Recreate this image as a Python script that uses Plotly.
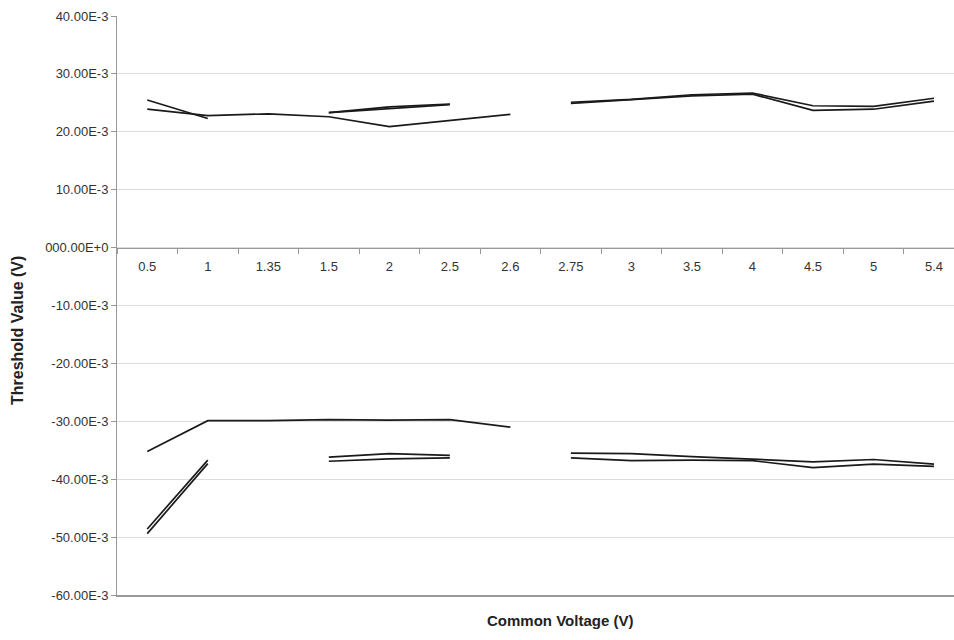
import plotly.graph_objects as go

categories = ["0.5", "1", "1.35", "1.5", "2", "2.5", "2.6", "2.75", "3", "3.5", "4", "4.5", "5", "5.4"]

# values in mV (None = no point)
upper_short = [25.5, 22.3, None, None, None, None, None, None, None, None, None, None, None, None]
upper_long = [23.9, 22.8, 23.1, 22.6, 20.9, 22.0, 23.0, None, None, None, None, None, None, None]
upper_mid_a = [None, None, None, 23.3, 24.3, 24.8, None, None, None, None, None, None, None, None]
upper_mid_b = [None, None, None, 23.3, 24.0, 24.7, None, None, None, None, None, None, None, None]
upper_right_a = [None, None, None, None, None, None, None, 25.1, 25.6, 26.4, 26.7, 24.5, 24.4, 25.8]
upper_right_b = [None, None, None, None, None, None, None, 24.9, 25.5, 26.2, 26.5, 23.7, 23.9, 25.3]

lower_long = [-35.2, -29.9, -29.9, -29.7, -29.8, -29.7, -31.0, None, None, None, None, None, None, None]
lower_short_a = [-48.6, -36.7, None, None, None, None, None, None, None, None, None, None, None, None]
lower_short_b = [-49.4, -37.3, None, None, None, None, None, None, None, None, None, None, None, None]
lower_mid_a = [None, None, None, -36.2, -35.6, -35.9, None, None, None, None, None, None, None, None]
lower_mid_b = [None, None, None, -36.9, -36.5, -36.3, None, None, None, None, None, None, None, None]
lower_right_a = [None, None, None, None, None, None, None, -35.5, -35.6, -36.1, -36.6, -37.0, -36.6, -37.4]
lower_right_b = [None, None, None, None, None, None, None, -36.3, -36.8, -36.7, -36.8, -38.0, -37.4, -37.8]

y_tick_vals = [0.04, 0.03, 0.02, 0.01, 0.0, -0.01, -0.02, -0.03, -0.04, -0.05, -0.06]
y_tick_text = ["40.00E-3", "30.00E-3", "20.00E-3", "10.00E-3", "000.00E+0", "-10.00E-3",
               "-20.00E-3", "-30.00E-3", "-40.00E-3", "-50.00E-3", "-60.00E-3"]

series = [upper_short, upper_long, upper_mid_a, upper_mid_b, upper_right_a, upper_right_b,
          lower_long, lower_short_a, lower_short_b, lower_mid_a, lower_mid_b, lower_right_a, lower_right_b]

fig = go.Figure()
for s in series:
    fig.add_trace(go.Scatter(
        x=categories,
        y=[v * 1e-3 if v is not None else None for v in s],
        mode="lines",
        line=dict(color="#1a1a1a", width=1.7),
        connectgaps=False,
        showlegend=False,
        hoverinfo="skip",
    ))

font_family = "Liberation Sans, Arial, sans-serif"

fig.update_layout(
    width=954, height=640,
    margin=dict(l=117, r=0, t=16, b=45),
    paper_bgcolor="white",
    plot_bgcolor="white",
    font=dict(family=font_family, color="#333333", size=13),
    xaxis=dict(
        type="category",
        categoryorder="array",
        categoryarray=categories,
        range=[-0.5, 13.33],
        anchor="free",
        position=0.6,
        automargin=False,
        showline=True,
        linecolor="#999999",
        linewidth=1,
        ticks="outside",
        tickson="boundaries",
        ticklen=5,
        tickcolor="#999999",
        showgrid=False,
        zeroline=False,
        tickfont=dict(size=13, color="#333333"),
        ticklabelstandoff=7,
    ),
    xaxis2=dict(
        overlaying="x",
        anchor="y",
        side="bottom",
        range=[0, 1],
        automargin=False,
        showline=True,
        linecolor="#999999",
        linewidth=2,
        showticklabels=False,
        ticks="",
        showgrid=False,
        zeroline=False,
    ),
    yaxis=dict(
        range=[-0.06, 0.04],
        tickvals=y_tick_vals,
        ticktext=y_tick_text,
        automargin=False,
        showline=True,
        linecolor="#999999",
        linewidth=1,
        ticks="outside",
        ticklen=5,
        tickcolor="#999999",
        showgrid=True,
        gridcolor="#dcdcdc",
        gridwidth=1,
        zeroline=False,
        tickfont=dict(size=13, color="#333333"),
    ),
    annotations=[
        dict(text="<b>Threshold Value (V)</b>", xref="paper", yref="paper",
             x=(18 - 117) / 837, y=(595 - 331) / 579, textangle=-90,
             showarrow=False, xanchor="center", yanchor="middle",
             font=dict(size=16, color="#222222", family=font_family)),
        dict(text="<b>Common Voltage (V)</b>", xref="paper", yref="paper",
             x=(560 - 117) / 837, y=-(620 - 595) / 579,
             showarrow=False, xanchor="center", yanchor="middle",
             font=dict(size=15, color="#222222", family=font_family)),
    ],
)
# empty trace so the bottom border axis renders
fig.add_trace(go.Scatter(x=[None], y=[None], xaxis="x2", yaxis="y", showlegend=False, hoverinfo="skip"))

# remove the default 8px page margin so the figure fills the window exactly
fig.write_html(
    "out.html",
    config={"displayModeBar": False},
    post_script="document.body.style.margin='0';document.body.style.overflow='hidden';",
)
